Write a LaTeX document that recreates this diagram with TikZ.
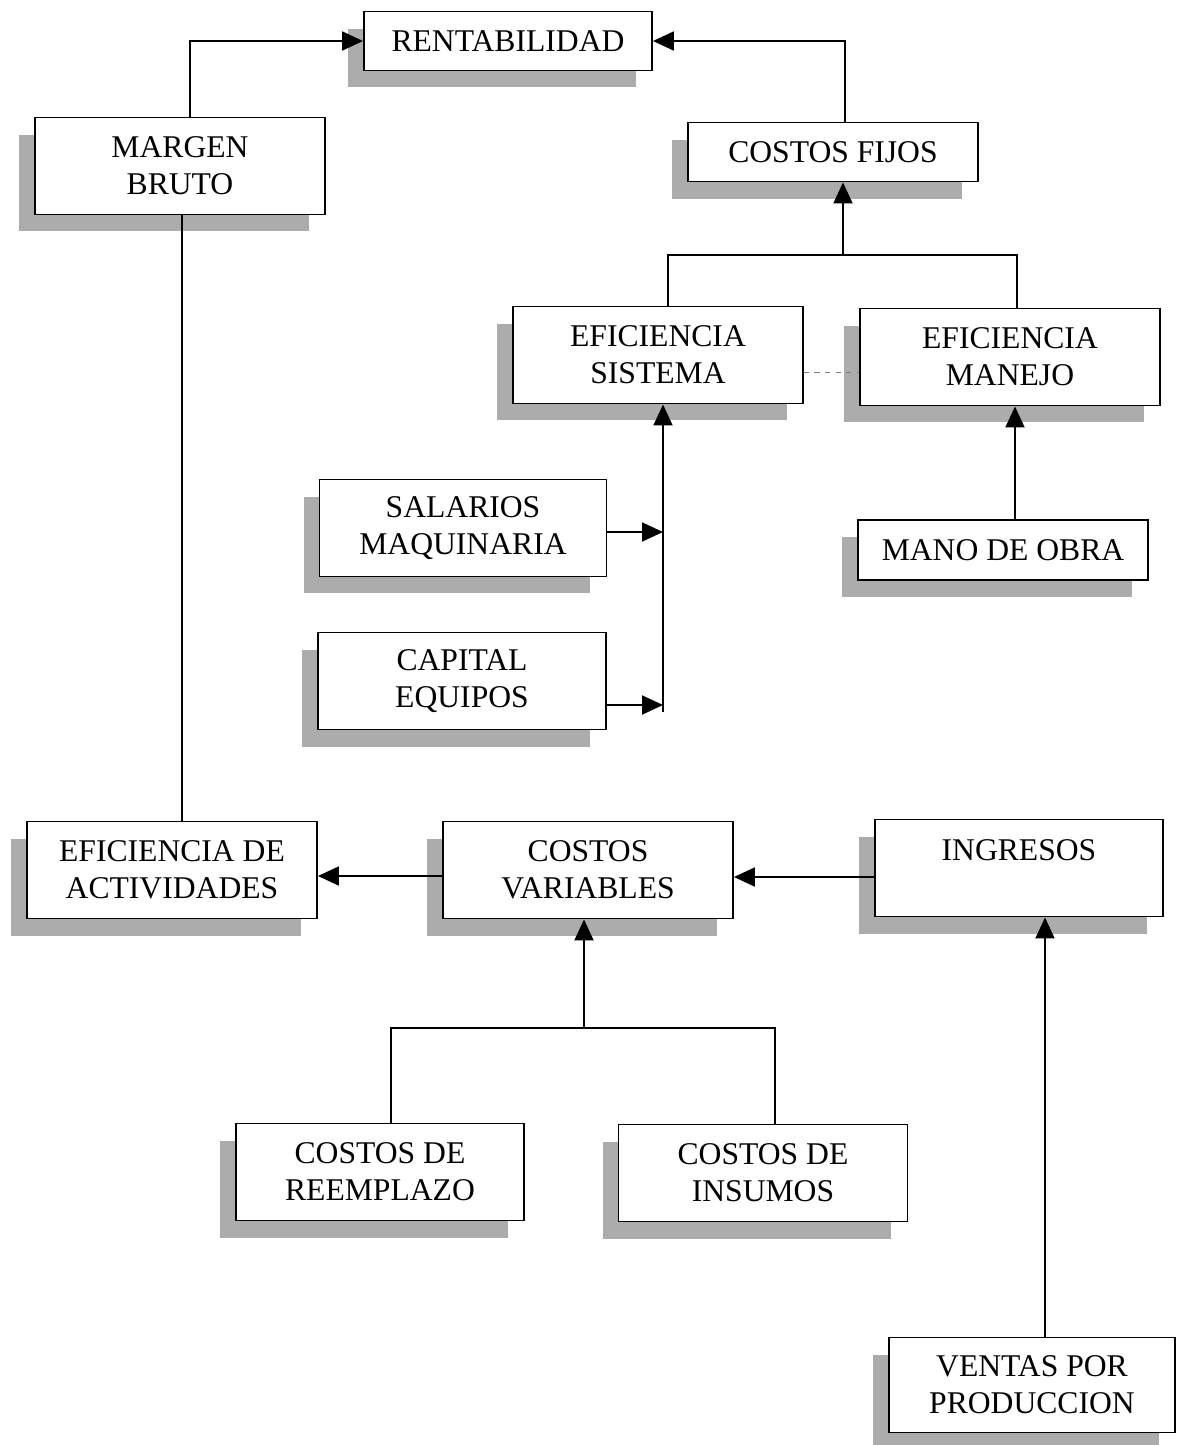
\documentclass[tikz,border=0pt]{standalone}
\usepackage{fontspec}
\setmainfont{Liberation Serif}
\usetikzlibrary{arrows.meta,shadows}
\begin{document}
\begin{tikzpicture}[x=0.02cm, y=-0.02cm,
    caja/.style={draw, fill=white, line width=1.1pt, align=center, inner sep=0pt,
        minimum width=5.8cm, minimum height=1.94cm, font=\fontsize{18}{21}\selectfont,
        drop shadow={shadow xshift=-0.32cm, shadow yshift=-0.34cm, opacity=1, fill=gray!65}},
    baja/.style={caja, minimum height=1.18cm},
    linea/.style={line width=1.1pt},
    flecha/.style={linea, -{Triangle[length=0.42cm, width=0.38cm]}}]
    \useasboundingbox (0,0) rectangle (1179,1445);

    \node (rent) [baja, minimum width=5.76cm] at (508,41) {RENTABILIDAD};
    \node (margen) [caja] at (180,166) {MARGEN\\BRUTO};
    \node (fijos) [baja] at (833,152) {COSTOS FIJOS};
    \node (sistema) [caja] at (658,355) {EFICIENCIA\\SISTEMA};
    \node (manejo) [caja, minimum width=6cm] at (1010,357) {EFICIENCIA\\MANEJO};
    \node (salarios) [caja, minimum width=5.74cm] at (463,528) {SALARIOS\\MAQUINARIA};
    \node (capital) [caja, minimum width=5.76cm] at (462,681) {CAPITAL\\EQUIPOS};
    \node (mano) [baja, minimum height=1.2cm] at (1003,550) {MANO DE OBRA};
    \node (actividades) [caja] at (172,870) {EFICIENCIA DE\\ACTIVIDADES};
    \node (variables) [caja] at (588,870) {COSTOS\\VARIABLES};
    \node (ingresos) [caja, minimum width=5.76cm] at (1019,868) {INGRESOS\\\mbox{}};
    \node (reemplazo) [caja, minimum width=5.76cm] at (380,1172) {COSTOS DE\\REEMPLAZO};
    \node (insumos) [caja, minimum width=5.78cm] at (763,1173) {COSTOS DE\\INSUMOS};
    \node (ventas) [caja, minimum width=5.72cm, minimum height=1.9cm] at (1032,1385) {VENTAS POR\\PRODUCCION};

    \coordinate (union1) at (843,255);
    \coordinate (bus1) at (663,712);
    \coordinate (union2) at (584,1028);

    \draw[flecha] ([xshift=0.2cm]margen.north) |- (rent.west);
    \draw[flecha] ([xshift=0.24cm]fijos.north) |- (rent.east);
    \draw[linea] ([xshift=0.04cm]margen.south) -- ([xshift=0.04cm]margen.south |- actividades.north);

    \draw[linea] ([xshift=0.2cm]sistema.north) |- (union1) -| ([xshift=0.14cm]manejo.north);
    \draw[flecha] (union1) -- (union1 |- fijos.south);
    \draw[dashed, gray, thin] ([yshift=-0.34cm]sistema.east) -- ([yshift=-0.34cm]sistema.east -| manejo.west);

    \draw[flecha] (bus1) -- (bus1 |- sistema.south);
    \draw[flecha] ([yshift=-0.08cm]salarios.east) -- ([yshift=-0.08cm]salarios.east -| bus1);
    \draw[flecha] ([yshift=-0.48cm]capital.east) -- ([yshift=-0.48cm]capital.east -| bus1);
    \draw[flecha] ([xshift=0.24cm]mano.north) -- ([xshift=0.24cm]mano.north |- manejo.south);

    \draw[flecha] ([yshift=-0.12cm]variables.west) -- ([yshift=-0.12cm]variables.west -| actividades.east);
    \draw[flecha] ([yshift=-0.18cm]ingresos.west) -- ([yshift=-0.18cm]ingresos.west -| variables.east);

    \draw[linea] ([xshift=0.22cm]reemplazo.north) |- (union2) -| ([xshift=0.24cm]insumos.north);
    \draw[flecha] (union2) -- (union2 |- variables.south);
    \draw[flecha] ([xshift=0.26cm]ventas.north) -- ([xshift=0.26cm]ventas.north |- ingresos.south);
\end{tikzpicture}
\end{document}
